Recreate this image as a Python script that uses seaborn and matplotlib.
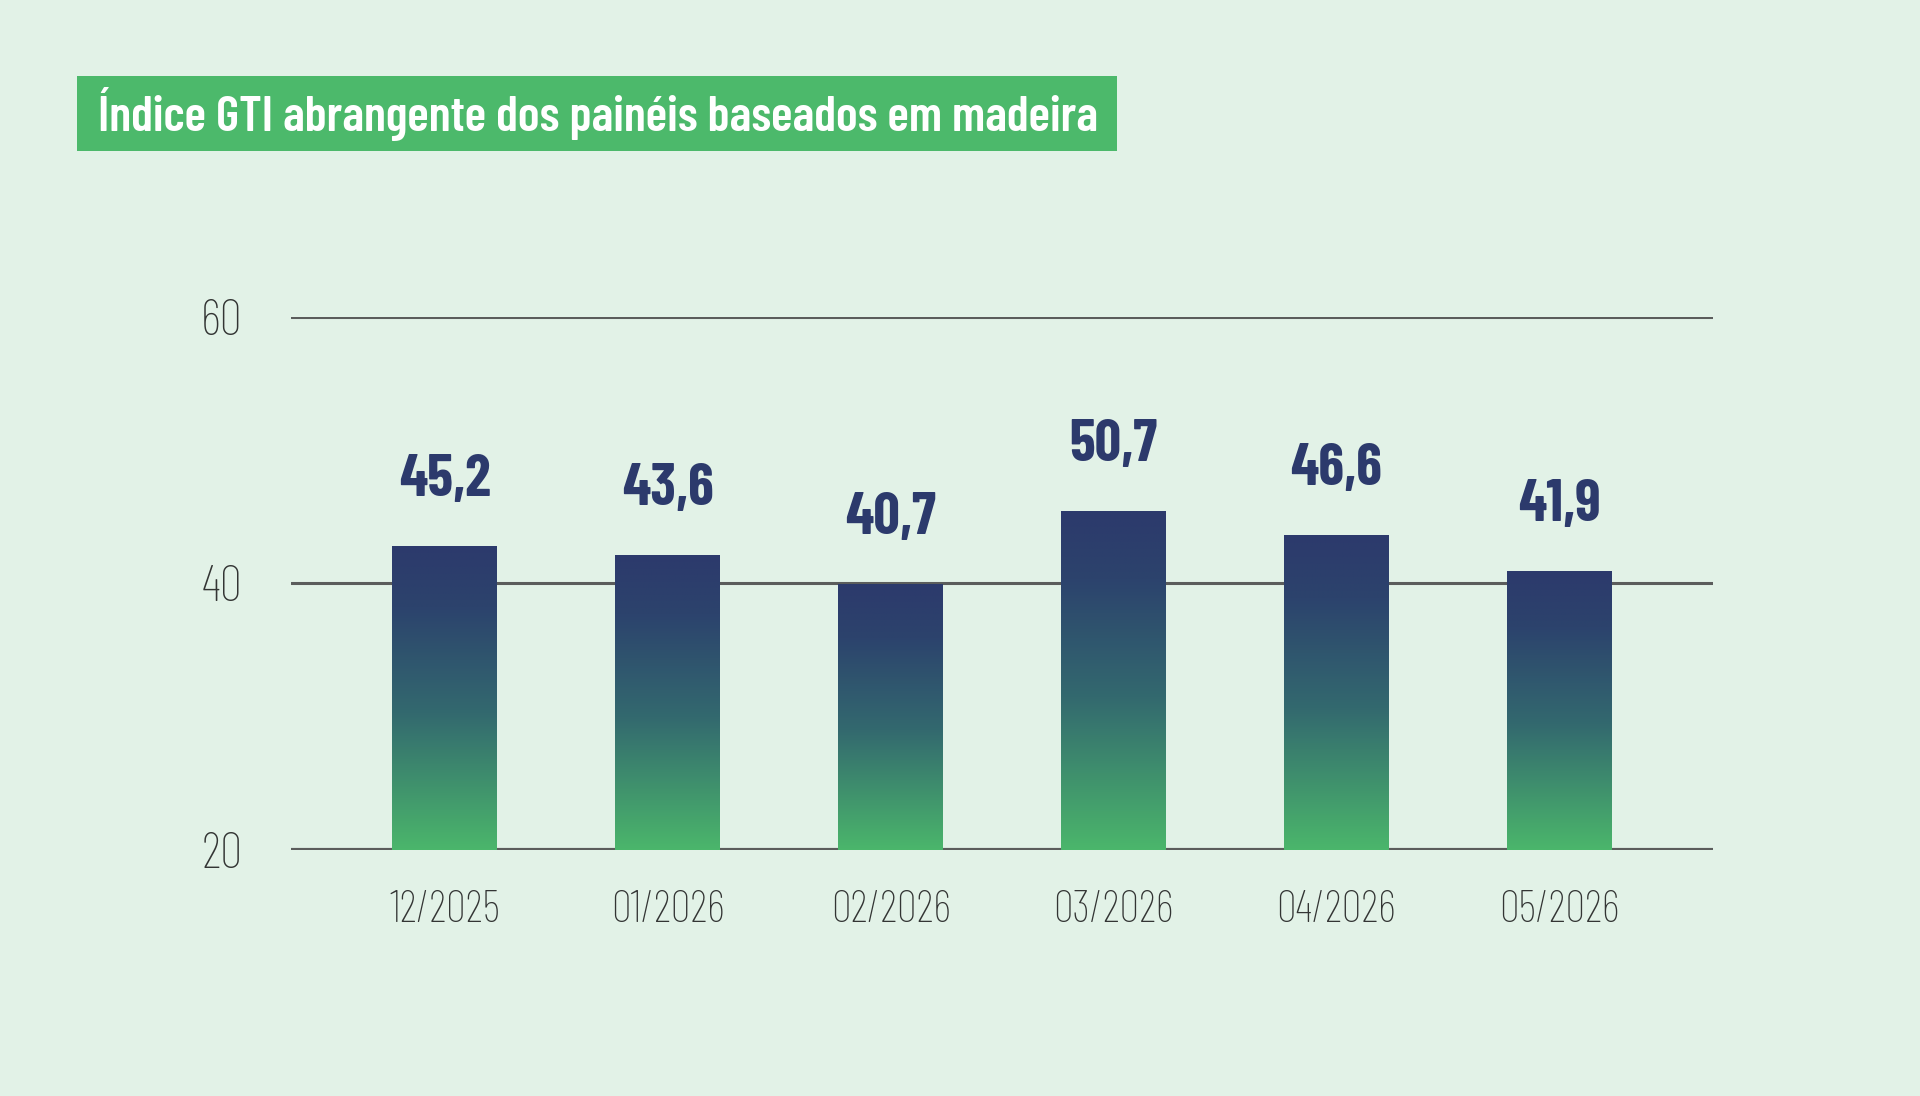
import numpy as np
import pandas as pd
import matplotlib
matplotlib.use("Agg")
import matplotlib.pyplot as plt
from matplotlib.colors import LinearSegmentedColormap
from matplotlib.patches import Rectangle
import seaborn as sns

# data
months = ["12/2025", "01/2026", "02/2026", "03/2026", "04/2026", "05/2026"]
gti = [45.2, 43.6, 40.7, 50.7, 46.6, 41.9]          # printed labels
bar_top = [42.8, 42.1, 39.9, 45.4, 43.6, 40.9]      # bar heights as drawn on the axis
yticks = [20, 40, 60]

BG = "#e2f2e7"
NAVY = "#2c3a6c"
GREEN = "#4bb66b"
FONT = ["Barlow Condensed", "DejaVu Sans"]

sns.set_theme(style="white")
plt.rcParams["font.family"] = FONT

df = pd.DataFrame({"mes": months, "top": bar_top, "gti": gti})

fig = plt.figure(figsize=(19.2, 10.96), dpi=100, facecolor=BG)
ax = fig.add_axes([0.1516, 0.2249, 0.7406, 0.4863])
ax.set_facecolor(BG)

sns.barplot(data=df, x="mes", y="top", width=0.47, color=NAVY, ax=ax, zorder=3)

# vertical gradient inside each bar
cmap = LinearSegmentedColormap.from_list(
    "gti", [(0.0, GREEN), (0.45, "#33696f"), (0.8, "#2c436d"), (1.0, NAVY)])
grad = np.linspace(0, 1, 256).reshape(-1, 1)
for p in ax.patches:
    x0, w, h = p.get_x(), p.get_width(), p.get_height()
    im = ax.imshow(grad, cmap=cmap, origin="lower", aspect="auto",
                   extent=[x0, x0 + w, 20, h], zorder=3, interpolation="bilinear")
    im.set_clip_path(p)
    p.set_facecolor("none")
    p.set_edgecolor("none")
ax.set_xlim(-0.69, 5.69)
ax.set_ylim(20, 60)

# grid lines
for t in yticks:
    ax.axhline(t, color="#5b5d5c", lw=2.2 if t > 20 else 3, zorder=2)
for s in ax.spines.values():
    s.set_visible(False)

ax.set_yticks(yticks)
ax.set_yticklabels([str(t) for t in yticks], fontsize=36, color="#333534",
                   fontweight="light")
ax.tick_params(axis="y", length=0, pad=35)
ax.tick_params(axis="x", length=0, pad=29)
for lab in ax.get_xticklabels():
    lab.set_fontsize(32)
    lab.set_color("#333534")
    lab.set_fontweight("light")
ax.set_xlabel("")
ax.set_ylabel("")

for i, (h, v) in enumerate(zip(bar_top, gti)):
    ax.annotate(f"{v:.1f}".replace(".", ","), (i, h), xytext=(0, 36),
                textcoords="offset points", ha="center", va="baseline",
                fontsize=42, fontweight="bold", color=NAVY, zorder=4)

# title box
fig.patches.append(Rectangle((0.0401, 0.8622), 0.5417, 0.0684, transform=fig.transFigure,
                             fc="#4cb96b", ec="none", zorder=0))
fig.text(0.051, 0.8964, "Índice GTI abrangente dos painéis baseados em madeira",
         fontsize=36, fontweight="semibold", color="white", va="center", ha="left")

fig.savefig("out.png", dpi=100, facecolor=BG)
